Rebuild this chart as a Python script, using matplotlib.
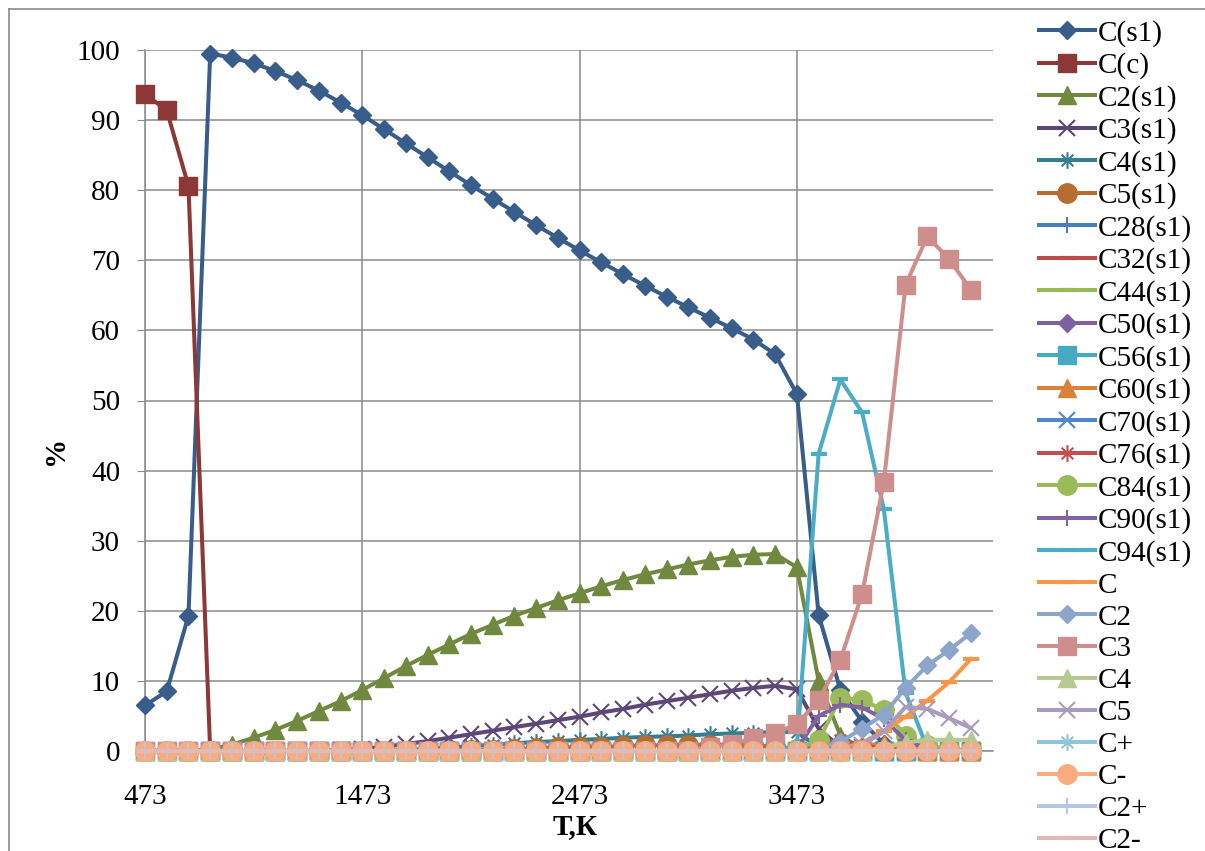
import matplotlib.pyplot as plt
from matplotlib.path import Path
from matplotlib.lines import Line2D

plt.rcParams['font.family'] = ['Liberation Serif', 'DejaVu Serif']

# temperatures, K
temps = [473, 573, 673, 773, 873, 973, 1073, 1173, 1273, 1373,
         1473, 1573, 1673, 1773, 1873, 1973, 2073, 2173, 2273, 2373,
         2473, 2573, 2673, 2773, 2873, 2973, 3073, 3173, 3273, 3373,
         3473, 3573, 3673, 3773, 3873, 3973, 4073, 4173, 4273]

# composition, %
c_s1 = [6.5, 8.5, 19.3, 99.5, 98.9, 98.1, 97.0, 95.7, 94.2, 92.5,
        90.7, 88.7, 86.7, 84.7, 82.7, 80.7, 78.8, 76.9, 75.0, 73.2,
        71.4, 69.7, 68.0, 66.4, 64.8, 63.3, 61.8, 60.3, 58.7, 56.6,
        50.9, 19.4, 8.7, 4.2, 1.0, 0.2, 0, 0, 0]
c_c = [93.7, 91.4, 80.6, 0, 0, 0, 0, 0, 0, 0,
       0, 0, 0, 0, 0, 0, 0, 0, 0, 0,
       0, 0, 0, 0, 0, 0, 0, 0, 0, 0,
       0, 0, 0, 0, 0, 0, 0, 0, 0]
c2_s1 = [0, 0, 0, 0.2, 0.9, 1.9, 3.0, 4.3, 5.7, 7.1,
         8.7, 10.4, 12.1, 13.7, 15.2, 16.7, 18.0, 19.3, 20.4, 21.5,
         22.5, 23.5, 24.4, 25.2, 25.9, 26.6, 27.2, 27.7, 28.0, 28.1,
         26.2, 10.0, 2.2, 0.3, 0, 0, 0, 0, 0]
c3_s1 = [0, 0, 0, 0, 0, 0, 0, 0, 0, 0.1,
         0.3, 0.6, 1.0, 1.4, 1.9, 2.4, 2.9, 3.4, 3.9, 4.4,
         4.9, 5.5, 6.0, 6.6, 7.1, 7.6, 8.1, 8.6, 9.0, 9.3,
         8.8, 3.2, 0.5, 0, 0, 0, 0, 0, 0]
c4_s1 = [0, 0, 0, 0, 0, 0, 0, 0, 0, 0,
         0, 0, 0.1, 0.3, 0.5, 0.7, 0.9, 1.1, 1.3, 1.4,
         1.6, 1.7, 1.9, 2.0, 2.1, 2.2, 2.4, 2.5, 2.6, 2.7,
         2.7, 0.5, 0, 0, 0, 0, 0, 0, 0]
c5_s1 = [0, 0, 0, 0, 0, 0, 0, 0, 0, 0,
         0, 0, 0, 0, 0, 0.1, 0.2, 0.3, 0.4, 0.5,
         0.6, 0.6, 0.7, 0.8, 0.8, 0.9, 0.9, 0.9, 0.8, 0.6,
         0.3, 0.1, 0, 0, 0, 0, 0, 0, 0]
c28_s1 = [0, 0, 0, 0, 0, 0, 0, 0, 0, 0,
          0, 0, 0, 0, 0, 0, 0, 0, 0, 0,
          0, 0, 0, 0, 0, 0, 0, 0, 0, 0,
          0, 0, 0, 0, 0, 0, 0, 0, 0]
c32_s1 = [0, 0, 0, 0, 0, 0, 0, 0, 0, 0,
          0, 0, 0, 0, 0, 0, 0, 0, 0, 0,
          0, 0, 0, 0, 0, 0, 0, 0, 0, 0,
          0, 0, 0, 0, 0, 0, 0, 0, 0]
c44_s1 = [0, 0, 0, 0, 0, 0, 0, 0, 0, 0,
          0, 0, 0, 0, 0, 0, 0, 0, 0, 0,
          0, 0, 0, 0, 0, 0, 0, 0, 0, 0,
          0, 0, 0, 0, 0, 0, 0, 0, 0]
c50_s1 = [0, 0, 0, 0, 0, 0, 0, 0, 0, 0,
          0, 0, 0, 0, 0, 0, 0, 0, 0, 0,
          0, 0, 0, 0, 0, 0, 0, 0, 0, 0,
          0, 0.8, 1.2, 0.6, 0, 0, 0, 0, 0]
c56_s1 = [0, 0, 0, 0, 0, 0, 0, 0, 0, 0,
          0, 0, 0, 0, 0, 0, 0, 0, 0, 0,
          0, 0, 0, 0, 0, 0, 0, 0, 0, 0,
          0, 0, 0, 0, 0, 0, 0, 0, 0]
c60_s1 = [0, 0, 0, 0, 0, 0, 0, 0, 0, 0,
          0, 0, 0, 0, 0, 0, 0, 0, 0, 0,
          0, 0, 0, 0, 0, 0, 0, 0, 0, 0,
          0, 0, 0.3, 0.8, 1.0, 0.5, 0, 0, 0]
c70_s1 = [0, 0, 0, 0, 0, 0, 0, 0, 0, 0,
          0, 0, 0, 0, 0, 0, 0, 0, 0, 0,
          0, 0, 0, 0, 0, 0, 0, 0, 0, 0,
          0, 0.2, 0.4, 0.6, 0.2, 0, 0, 0, 0]
c76_s1 = [0, 0, 0, 0, 0, 0, 0, 0, 0, 0,
          0, 0, 0, 0, 0, 0, 0, 0, 0, 0,
          0, 0, 0, 0, 0, 0, 0, 0, 0, 0,
          0.2, 1.2, 1.5, 0.8, 0.3, 0, 0, 0, 0]
c84_s1 = [0, 0, 0, 0, 0, 0, 0, 0, 0, 0,
          0, 0, 0, 0, 0, 0, 0, 0, 0, 0,
          0, 0, 0, 0, 0, 0, 0, 0, 0, 0,
          0.3, 1.5, 7.6, 7.3, 5.8, 2.2, 0.8, 0.3, 0.1]
c90_s1 = [0, 0, 0, 0, 0, 0, 0, 0, 0, 0,
          0, 0, 0, 0, 0, 0, 0, 0, 0, 0,
          0, 0, 0, 0, 0, 0, 0, 0, 0, 0,
          0.3, 5.0, 6.6, 6.2, 4.6, 1.5, 0.3, 0, 0]
c94_s1 = [0, 0, 0, 0, 0, 0, 0, 0, 0, 0,
          0, 0, 0, 0, 0, 0, 0, 0, 0, 0,
          0, 0, 0, 0, 0, 0, 0, 0, 0, 0,
          0.8, 42.4, 53.0, 48.3, 34.5, 8.3, 0.4, 0, 0]
c_gas = [0, 0, 0, 0, 0, 0, 0, 0, 0, 0,
         0, 0, 0, 0, 0, 0, 0, 0, 0, 0,
         0, 0, 0, 0, 0, 0, 0, 0, 0, 0,
         0, 0, 0.3, 1.2, 2.8, 4.9, 7.2, 9.8, 13.1]
c2_gas = [0, 0, 0, 0, 0, 0, 0, 0, 0, 0,
          0, 0, 0, 0, 0, 0, 0, 0, 0, 0,
          0, 0, 0, 0, 0, 0, 0, 0, 0, 0,
          0, 0.3, 1.3, 3.2, 5.2, 9.0, 12.2, 14.4, 16.8]
c3_gas = [0, 0, 0, 0, 0, 0, 0, 0, 0, 0,
          0, 0, 0, 0, 0, 0, 0, 0, 0, 0,
          0, 0, 0, 0, 0, 0, 0.5, 1.0, 1.8, 2.6,
          3.8, 7.3, 13.0, 22.4, 38.4, 66.5, 73.4, 70.2, 65.8]
c4_gas = [0, 0, 0, 0, 0, 0, 0, 0, 0, 0,
          0, 0, 0, 0, 0, 0, 0, 0, 0, 0,
          0, 0, 0, 0, 0, 0, 0, 0, 0, 0,
          0, 0, 0, 0, 0.5, 1.2, 1.6, 1.6, 1.6]
c5_gas = [0, 0, 0, 0, 0, 0, 0, 0, 0, 0,
          0, 0, 0, 0, 0, 0, 0, 0, 0, 0,
          0, 0, 0, 0, 0, 0, 0, 0, 0, 0,
          0, 0, 0, 0.8, 2.8, 6.3, 6.0, 4.7, 3.3]
c_plus = [0, 0, 0, 0, 0, 0, 0, 0, 0, 0,
          0, 0, 0, 0, 0, 0, 0, 0, 0, 0,
          0, 0, 0, 0, 0, 0, 0, 0, 0, 0,
          0, 0, 0, 0, 0, 0, 0, 0, 0]
c_minus = [0, 0, 0, 0, 0, 0, 0, 0, 0, 0,
           0, 0, 0, 0, 0, 0, 0, 0, 0, 0,
           0, 0, 0, 0, 0, 0, 0, 0, 0, 0,
           0, 0, 0, 0, 0, 0, 0, 0, 0]
c2_plus = [0, 0, 0, 0, 0, 0, 0, 0, 0, 0,
           0, 0, 0, 0, 0, 0, 0, 0, 0, 0,
           0, 0, 0, 0, 0, 0, 0, 0, 0, 0,
           0, 0, 0, 0, 0, 0, 0, 0, 0]
c2_minus = [0, 0, 0, 0, 0, 0, 0, 0, 0, 0,
            0, 0, 0, 0, 0, 0, 0, 0, 0, 0,
            0, 0, 0, 0, 0, 0, 0, 0, 0, 0,
            0, 0, 0, 0, 0, 0, 0, 0, 0]

names = ['C(s1)', 'C(c)', 'C2(s1)', 'C3(s1)', 'C4(s1)', 'C5(s1)', 'C28(s1)',
         'C32(s1)', 'C44(s1)', 'C50(s1)', 'C56(s1)', 'C60(s1)', 'C70(s1)',
         'C76(s1)', 'C84(s1)', 'C90(s1)', 'C94(s1)', 'C', 'C2', 'C3', 'C4',
         'C5', 'C+', 'C-', 'C2+', 'C2-']
data = [c_s1, c_c, c2_s1, c3_s1, c4_s1, c5_s1, c28_s1, c32_s1, c44_s1,
        c50_s1, c56_s1, c60_s1, c70_s1, c76_s1, c84_s1, c90_s1, c94_s1,
        c_gas, c2_gas, c3_gas, c4_gas, c5_gas, c_plus, c_minus, c2_plus,
        c2_minus]
colors = ['#385D8A', '#8C3836', '#71893F', '#5C4776', '#357D91', '#B66D31',
          '#4A7EBB', '#BE4B48', '#98B954', '#7D60A0', '#46AAC5', '#DA8137',
          '#4F86C6', '#C0504D', '#9BBB59', '#8064A2', '#4BACC6', '#F79646',
          '#8EA5CB', '#CE8E8C', '#B5CA92', '#A99BBD', '#92C5D7', '#F9AC80',
          '#B9C6DF', '#DEBAB9']

# excel-like asterisk: vertical bar + X
asterisk = Path([(0, -1), (0, 1), (-0.7, -0.7), (0.7, 0.7), (-0.7, 0.7), (0.7, -0.7)],
                [Path.MOVETO, Path.LINETO, Path.MOVETO, Path.LINETO, Path.MOVETO, Path.LINETO])

# marker cycle: (marker, size, edge width, filled)
cycle = [('D', 9, 1, True), ('s', 13, 1, True), ('^', 13, 1, True),
         ('x', 12, 1.5, False), (asterisk, 12, 1.5, False), ('o', 14, 1, True),
         ('+', 12, 1.5, False), ('_', 12, 3, False), ('_', 12, 3, False)]

fig = plt.figure(figsize=(12.05, 8.51), dpi=100)
ax = fig.add_axes([145/1205, 1-751/851, (992.5-145)/1205, (751-50)/851])

for i in range(len(names)):
    m, ms, mew, filled = cycle[i % 9]
    col = colors[i]
    ax.plot(temps, data[i], color=col, lw=2.9, marker=m, ms=ms,
            mfc=col if filled else 'none', mec=col, mew=mew,
            clip_on=False, label=names[i], zorder=3+i)

ax.set_xlim(473, 4373)
ax.set_ylim(0, 100)
ax.set_xticks([473, 1473, 2473, 3473])
ax.set_yticks(range(0, 101, 10))
ax.set_axisbelow(True)
ax.grid(True, color='#8a8a8a', lw=1.1)
for s in ['top', 'right']:
    ax.spines[s].set_visible(False)
for s in ['left', 'bottom']:
    ax.spines[s].set_color('#8a8a8a')
    ax.spines[s].set_linewidth(1.1)
ax.tick_params(axis='y', length=6, color='#8a8a8a', pad=12, labelsize=21)
ax.tick_params(axis='x', length=0, pad=24, labelsize=21)

fig.text(55/1205, 1-450/851, '%', fontsize=21, fontweight='bold',
         rotation=90, ha='center', va='center')
fig.text(575/1205, 1-827/851, 'Т,К', fontsize=21, fontweight='bold',
         ha='center', va='center')

ax.legend(loc='upper left', bbox_to_anchor=(1039/1205, 1-20/851),
          bbox_transform=fig.transFigure, frameon=False, fontsize=21,
          handlelength=1.92, handletextpad=0.1, labelspacing=0.19,
          borderpad=0, borderaxespad=0)

# chart area border
fig.add_artist(Line2D([9/1205, 9/1205], [0, 1-9/851], color='#8a8a8a', lw=1.2))
fig.add_artist(Line2D([9/1205, 1], [1-9/851, 1-9/851], color='#8a8a8a', lw=1.2))

fig.savefig('out.png', dpi=100)
